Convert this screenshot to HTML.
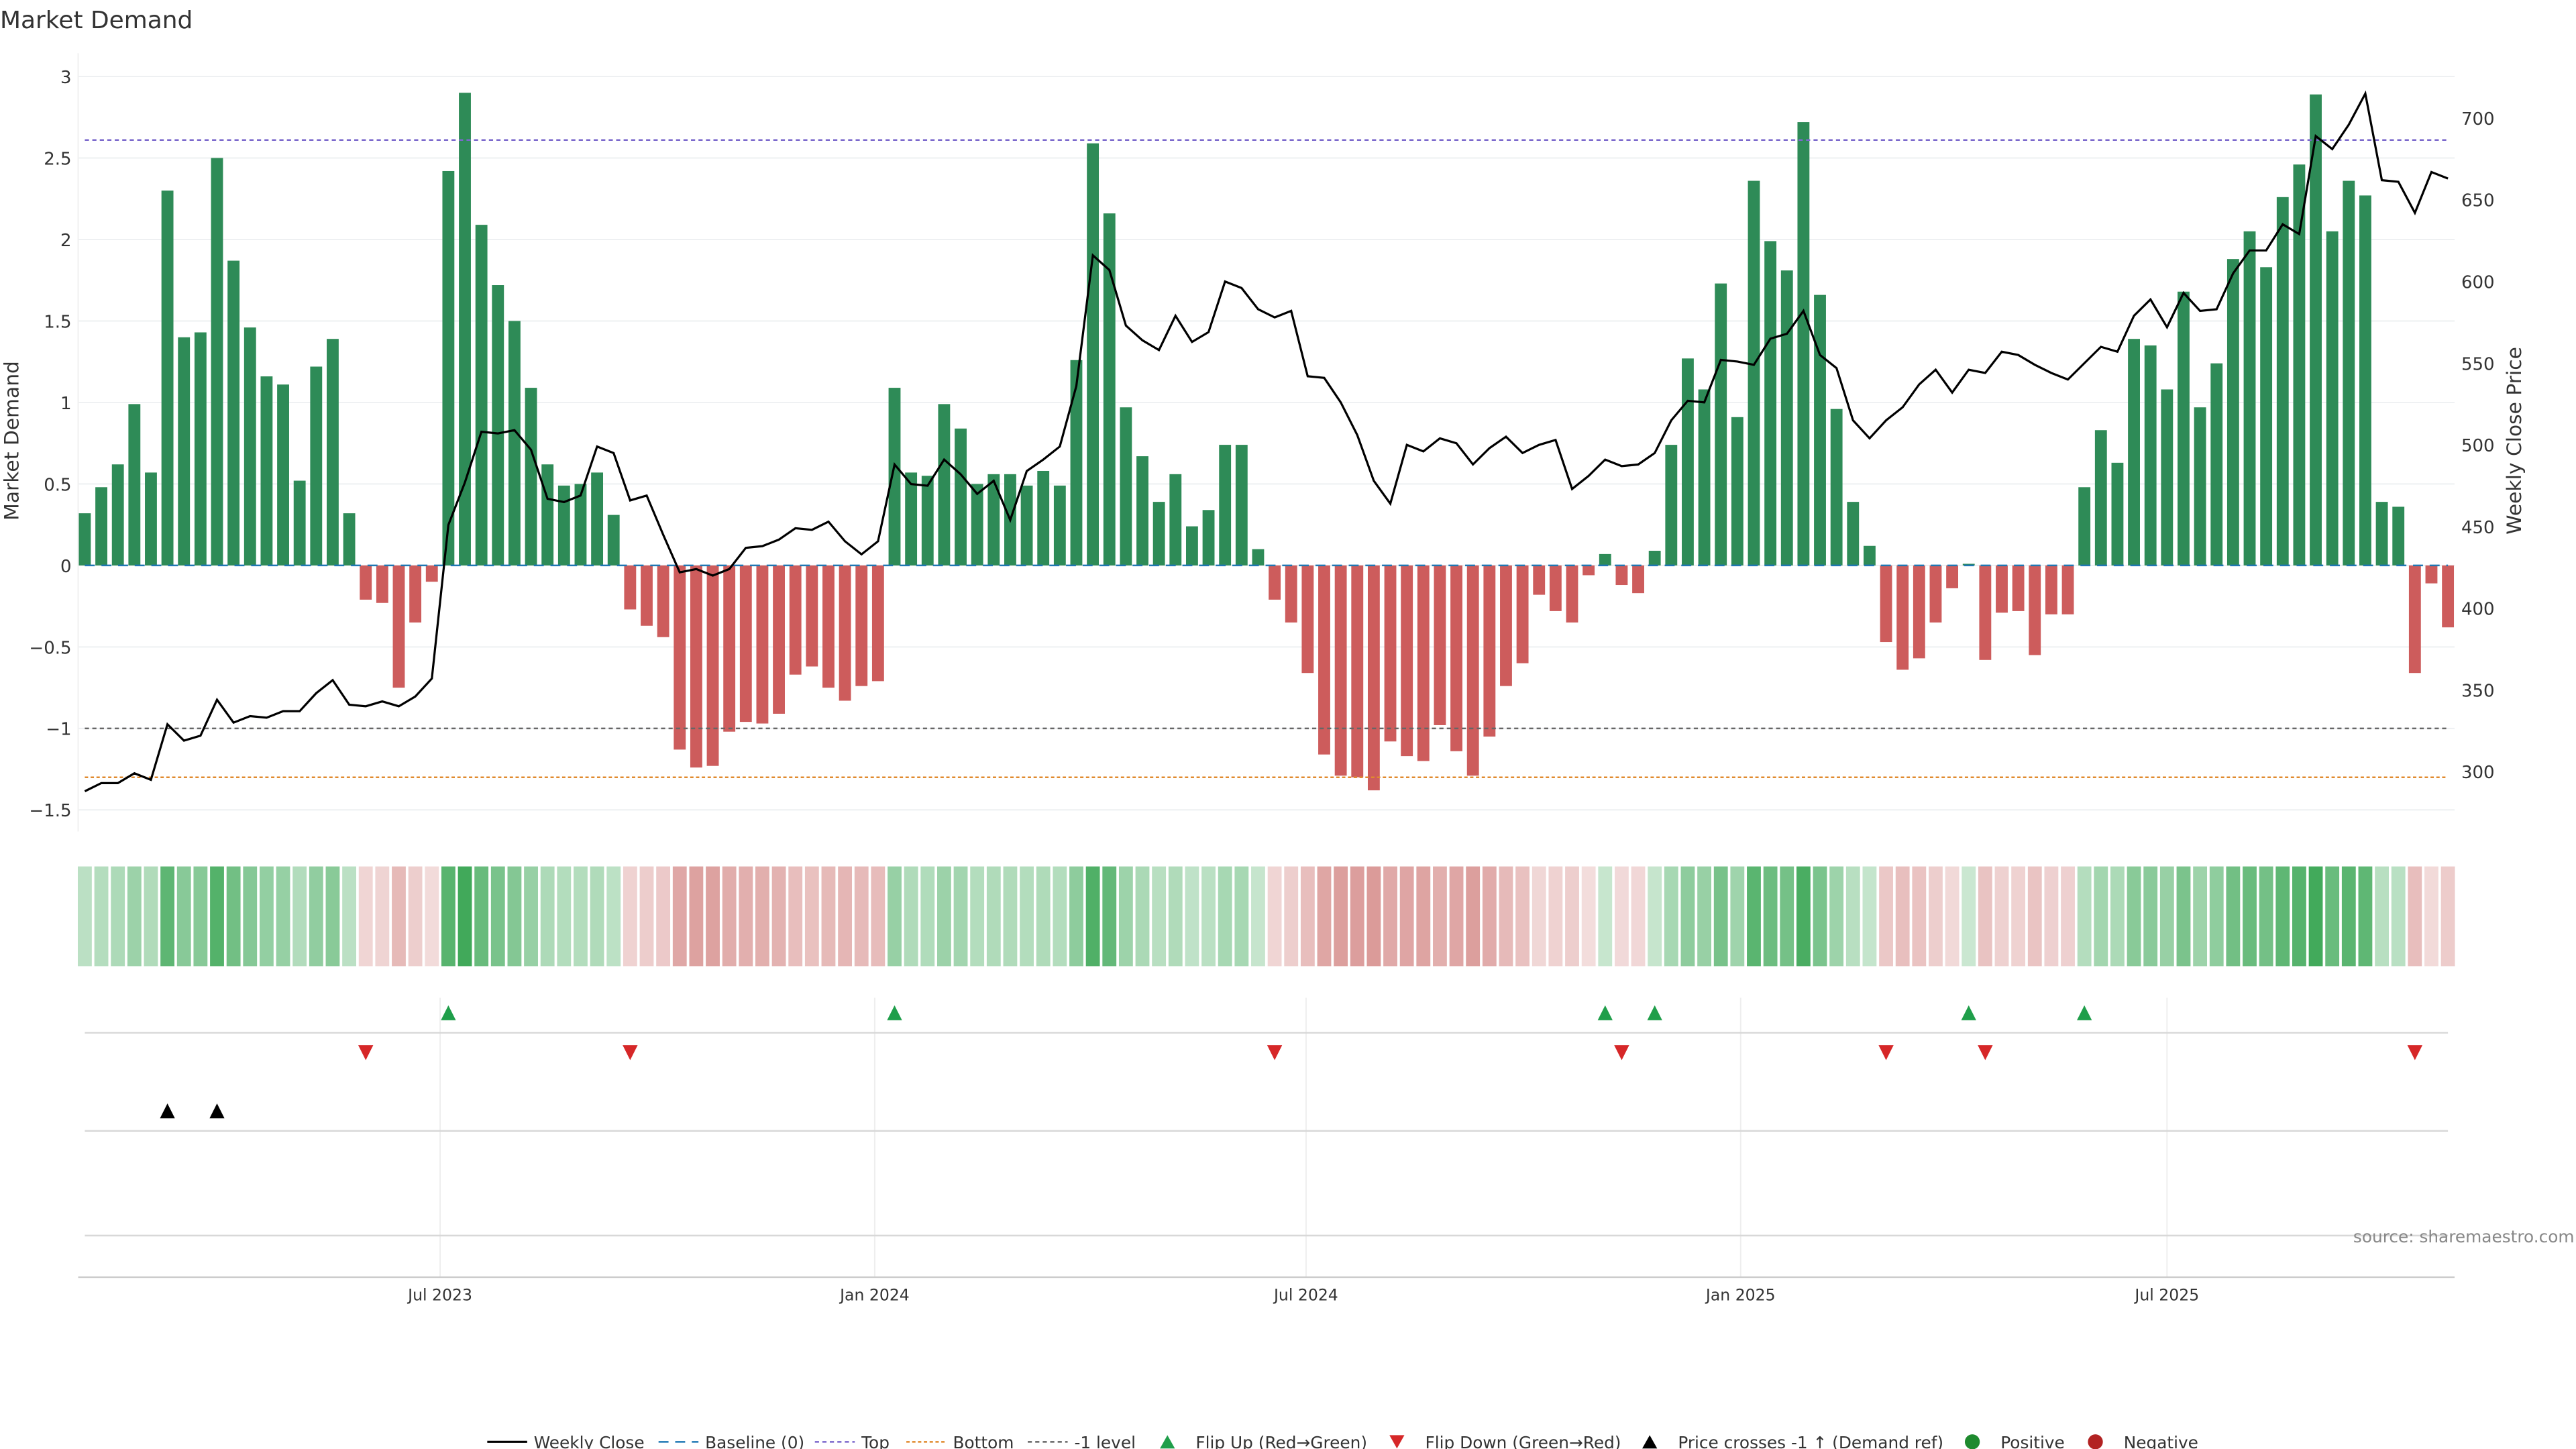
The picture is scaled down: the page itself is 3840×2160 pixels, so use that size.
<!DOCTYPE html>
<html><head><meta charset="utf-8"><style>
html,body{margin:0;padding:0;background:#fff;}
svg{display:block;font-family:"DejaVu Sans","Liberation Sans",sans-serif;}
</style></head><body>
<svg id="chart" width="3840" height="2160" viewBox="0 0 1549 871.3" xmlns="http://www.w3.org/2000/svg">
<text x="0" y="17" font-size="14.5" fill="#333">Market Demand</text>
<g id="grid"></g><g id="main"></g><g id="lower"></g><g id="axes"></g><g id="legend"></g>
<text x="1548" y="747" font-size="10" fill="#888" text-anchor="end">source: sharemaestro.com</text>
</svg>
<script>
const demand=[0.32,0.48,0.62,0.99,0.57,2.3,1.4,1.43,2.5,1.87,1.46,1.16,1.11,0.52,1.22,1.39,0.32,
-0.21,-0.23,-0.75,-0.35,-0.1,
2.42,2.9,2.09,1.72,1.5,1.09,0.62,0.49,0.5,0.57,0.31,
-0.27,-0.37,-0.44,-1.13,-1.24,-1.23,-1.02,-0.96,-0.97,-0.91,-0.67,-0.62,-0.75,-0.83,-0.74,-0.71,
1.09,0.57,0.55,0.99,0.84,0.5,0.56,0.56,0.49,0.58,0.49,1.26,2.59,2.16,0.97,0.67,0.39,0.56,0.24,0.34,0.74,0.74,0.1,
-0.21,-0.35,-0.66,-1.16,-1.29,-1.3,-1.38,-1.08,-1.17,-1.2,-0.98,-1.14,-1.29,-1.05,-0.74,-0.6,-0.18,-0.28,-0.35,-0.06,
0.07,-0.12,-0.17,
0.09,0.74,1.27,1.08,1.73,0.91,2.36,1.99,1.81,2.72,1.66,0.96,0.39,0.12,
-0.47,-0.64,-0.57,-0.35,-0.14,0.01,-0.58,-0.29,-0.28,-0.55,-0.3,-0.3,
0.48,0.83,0.63,1.39,1.35,1.08,1.68,0.97,1.24,1.88,2.05,1.83,2.26,2.46,2.89,2.05,2.36,2.27,0.39,0.36,
-0.66,-0.11,-0.38];
const price=[288,293,293,299,295,329,319,322,344,330,334,333,337,337,348,356,341,340,343,340,346,357,
451,477,508,507,509,497,467,465,469,499,495,466,469,445,422,424,420,424,437,438,442,449,448,453,441,433,441,
488,476,475,491,482,470,478,454,484,491,499,536,616,607,573,564,558,579,563,569,600,596,583,578,582,542,541,
526,506,478,464,500,496,504,501,488,498,505,495,500,503,473,481,491,487,488,495,515,527,526,552,551,549,565,
568,582,555,547,515,504,515,523,537,546,532,546,544,557,555,549,544,540,550,560,557,579,589,572,593,582,583,
605,619,619,635,629,689,681,696,715,662,661,642,667,663];
const leftTicks=[3,2.5,2,1.5,1,0.5,0,-0.5,-1,-1.5];
const leftTickLabels=["3","2.5","2","1.5","1","0.5","0","−0.5","−1","−1.5"];
const rightTicks=[700,650,600,550,500,450,400,350,300];
const dateTickIdx=[21.5,47.8,73.9,100.2,126.0];
const dateTickLabels=["Jul 2023","Jan 2024","Jul 2024","Jan 2025","Jul 2025"];
const topLevel=2.61, bottomLevel=-1.3, minusOneLevel=-1, priceRefLevel=326;

const NS="http://www.w3.org/2000/svg";
const xs=i=>51+i*((1472-51)/143);
const yL=v=>340-v*98;
const yR=p=>71+(700-p)*0.9825;
function mk(tag,attrs,parent,text){const e=document.createElementNS(NS,tag);for(const k in attrs)e.setAttribute(k,attrs[k]);if(text!==undefined)e.textContent=text;parent.appendChild(e);return e;}
const G=id=>document.getElementById(id);
const grid=G('grid'),main=G('main'),lower=G('lower'),axes=G('axes'),legend=G('legend');

// gridlines + left ticks
leftTicks.forEach((v,k)=>{
  let l=mk('line',{x1:47,x2:1476,y1:yL(v),y2:yL(v),stroke:'#eef0f2','stroke-width':0.8},grid);
  
  
  let t=mk('text',{x:43,y:yL(v)+4,'font-size':10.5,fill:'#333','text-anchor':'end'},axes,leftTickLabels[k]);
  
  
});
rightTicks.forEach(p=>{
  let t=mk('text',{x:1480,y:yR(p)+4,'font-size':10.5,fill:'#333'},axes,String(p));
  
  
});
mk('line',{x1:47,x2:47,y1:32,y2:500,stroke:'#f0f0f0','stroke-width':0.8},grid);
let yl=mk('text',{transform:'translate(11,265) rotate(-90)','font-size':12,fill:'#333','text-anchor':'middle'},axes,'Market Demand');


let yr=mk('text',{transform:'translate(1516,265) rotate(-90)','font-size':12,fill:'#333','text-anchor':'middle'},axes,'Weekly Close Price');



// bars
demand.forEach((v,i)=>{
  const y0=yL(0),y1=yL(v);
  let r=mk('rect',{x:xs(i)-3.6,width:7.2,y:Math.min(y0,y1),height:Math.max(Math.abs(y1-y0),0.3),fill:v>=0?'#2e8b57':'#cd5c5c'},main);
  
  
});
// reference lines
function hline(v,color,dash,name){let l=mk('line',{x1:51,x2:1472,y1:yL(v),y2:yL(v),stroke:color,'stroke-width':1,'stroke-dasharray':dash},main);
  
  }
hline(0,'#1f77b4','6 4','baseline-line');
hline(topLevel,'#7b68cc','2.5 2','top-line');
hline(bottomLevel,'#e08a2e','2 1.5','bottom-line');
hline(minusOneLevel,'#666','2.5 2','minus-one-line');
// price line
let pl=mk('polyline',{points:price.map((p,i)=>xs(i)+','+yR(p)).join(' '),fill:'none',stroke:'#000','stroke-width':1.3},main);



// heatmap strip
demand.forEach((v,i)=>{
  const a=Math.min(Math.abs(v),2.9);
  const op=v>=0?0.25+0.65*a/2.9:0.18+0.4*Math.min(a,1.4)/1.4;
  let r=mk('rect',{x:xs(i)-4.2,width:8.4,y:521,height:60,fill:v>=0?'#2ca048':'#c0504d','fill-opacity':op},lower);
  
  
});
// lower panels
dateTickIdx.forEach(d=>{
  let l=mk('line',{x1:xs(d),x2:xs(d),y1:600,y2:768,stroke:'#eeeeee','stroke-width':0.8},lower);
  
  
});
[621,680,743].forEach(y=>{
  let l=mk('line',{x1:51,x2:1472,y1:y,y2:y,stroke:'#d8d8d8','stroke-width':1},lower);
  
  
});
function tri(x,y,up,color,name){const h=4.5;const pts=up?`${x-4.5},${y+h} ${x+4.5},${y+h} ${x},${y-h}`:`${x-4.5},${y-h} ${x+4.5},${y-h} ${x},${y+h}`;
  let p=mk('polygon',{points:pts,fill:color},lower);
  
  }
for(let i=1;i<demand.length;i++){
  if(demand[i-1]<0&&demand[i]>0)tri(xs(i),609,true,'#1f9e4a','flip-up-marker');
  if(demand[i-1]>0&&demand[i]<0)tri(xs(i),633,false,'#d62728','flip-down-marker');
}
for(let i=1;i<price.length;i++){
  if(price[i-1]<priceRefLevel&&price[i]>=priceRefLevel)tri(xs(i),668,true,'#000','price-cross-marker');
}
// x axis
mk('line',{x1:47,x2:1476,y1:768,y2:768,stroke:'#ccc','stroke-width':1},axes);
dateTickIdx.forEach((d,k)=>{
  let t=mk('text',{x:xs(d),y:782,'font-size':9.5,fill:'#333','text-anchor':'middle'},axes,dateTickLabels[k]);
  
  
});

// legend
const ly=867;
function legText(x,s){let t=mk('text',{x:x,y:ly+4,'font-size':10,fill:'#333'},legend,s);
  
  }
function legLine(x,color,dash,w){let l=mk('line',{x1:x,x2:x+24,y1:ly,y2:ly,stroke:color,'stroke-width':w,'stroke-dasharray':dash},legend);
  
  }
legLine(293,'#000','none',1.3);legText(321,'Weekly Close');
legLine(396,'#1f77b4','6 4',1);legText(424,'Baseline (0)');
legLine(490,'#7b68cc','2.5 2',1);legText(518,'Top');
legLine(545,'#e08a2e','2 1.5',1);legText(573,'Bottom');
legLine(618,'#666','2.5 2',1);legText(646,'-1 level');
function legTri(x,up,color){const pts=up?`${x-4.5},${ly+4} ${x+4.5},${ly+4} ${x},${ly-4}`:`${x-4.5},${ly-4} ${x+4.5},${ly-4} ${x},${ly+4}`;
  let p=mk('polygon',{points:pts,fill:color},legend);
  
  }
legTri(702,true,'#1f9e4a');legText(719,'Flip Up (Red→Green)');
legTri(840,false,'#d62728');legText(857,'Flip Down (Green→Red)');
legTri(992,true,'#000');legText(1009,'Price crosses -1 ↑ (Demand ref)');
let c1=mk('circle',{cx:1186,cy:ly,r:4.5,fill:'#1e8a2e'},legend);


legText(1203,'Positive');
let c2=mk('circle',{cx:1260,cy:ly,r:4.5,fill:'#b22222'},legend);


legText(1277,'Negative');
</script>
</body></html>
